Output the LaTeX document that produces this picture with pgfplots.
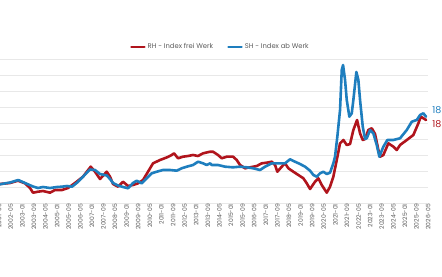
\documentclass[border=0pt]{standalone}
\usepackage{fontspec}
\setmainfont{Poppins}
\usepackage{pgfplots}
\pgfplotsset{compat=1.18}
\usepackage{pgfplotstable}

\definecolor{rhred}{HTML}{B0141C}
\definecolor{shblue}{HTML}{1E7EBE}
\definecolor{gridgray}{HTML}{E8E8E8}
\definecolor{labgray}{HTML}{5A5A5A}

% x: months since 2000-01, y: index value
\pgfplotstableread{
m v
21.96 103.75
28.86 105.0
34.38 107.9
39.21 104.6
42.66 98.75
44.73 92.9
48.19 94.1
51.63 95.0
56.47 92.9
59.92 96.25
64.75 96.25
68.89 98.75
73.72 105.0
79.24 112.9
84.56 125.4
87.52 119.1
90.97 110.0
95.60 119.1
97.87 112.9
99.95 103.75
103.40 100.4
106.85 106.6
110.30 101.25
113.75 102.5
117.20 104.6
120.65 108.75
124.10 119.1
127.55 129.6
132.38 133.75
137.21 137.1
140.46 140.0
142.04 142.1
144.80 135.9
148.25 137.9
151.70 138.75
155.15 140.0
158.61 138.75
162.06 142.1
166.89 144.1
168.96 144.1
172.41 140.0
174.96 135.9
178.41 137.9
182.76 137.9
185.31 133.75
187.59 127.5
191.04 123.4
194.49 124.6
199.12 126.25
202.57 129.6
206.02 130.4
209.47 131.6
211.75 127.5
213.33 119.1
216.37 125.4
218.65 129.6
220.93 123.4
224.38 119.1
227.83 115.0
231.28 110.9
233.63 104.6
235.90 97.5
239.35 106.6
241.63 110.9
243.98 102.5
247.43 92.9
249.70 100.4
251.98 112.9
254.33 133.75
256.60 154.6
258.88 158.75
261.23 152.5
263.51 153.75
265.79 171.25
268.34 183.75
270.41 167.1
272.27 158.75
273.86 160.0
276.14 171.25
278.49 173.4
280.76 166.25
283.04 146.25
284.21 137.9
286.49 140.0
289.94 154.6
293.39 150.4
295.74 146.25
298.01 152.5
302.64 158.75
307.19 165.0
310.64 179.6
312.30 187.9
314.09 185.9
315.96 183.75
}\rhdata

\pgfplotstableread{
m v
21.96 103.4
28.86 105.6
34.59 108.75
39.21 105.0
44.73 100.6
48.19 98.75
51.63 100.0
56.47 98.75
61.30 100.0
64.75 100.4
68.20 101.25
71.65 100.4
75.10 105.4
79.24 112.9
84.07 121.9
87.52 121.25
90.97 116.25
95.60 114.4
97.87 110.0
99.95 105.0
103.40 101.9
106.85 100.0
110.30 98.4
113.75 105.0
116.30 107.9
119.75 104.6
123.20 110.9
126.65 117.1
130.10 119.1
134.45 121.25
139.28 121.25
143.90 120.4
147.35 123.4
150.81 125.4
155.15 127.5
158.61 131.6
162.06 129.6
164.61 127.5
166.89 129.6
168.06 127.5
172.41 127.5
177.24 125.4
182.76 124.6
187.59 125.4
192.21 124.6
196.56 123.4
201.39 121.25
204.85 125.4
209.47 129.6
214.03 129.6
218.65 129.6
222.10 134.6
225.55 131.6
229.00 128.75
232.45 125.4
235.90 120.4
238.18 115.0
240.53 112.9
242.80 117.1
245.08 119.1
247.43 116.25
249.70 117.9
251.98 129.6
253.14 137.9
254.73 162.9
256.60 196.25
257.78 246.25
258.68 252.5
260.06 233.75
261.23 208.75
263.03 187.9
264.68 192.1
265.79 208.75
267.86 243.75
269.24 233.75
270.41 208.75
272.27 175.4
273.86 160.0
275.03 160.9
277.31 171.25
279.59 167.1
281.93 152.5
283.73 137.9
286.49 150.4
289.25 158.75
293.39 158.75
298.01 160.9
302.64 171.25
306.09 181.6
309.54 183.75
311.82 190.0
314.09 192.1
315.96 187.9
}\shdata

\begin{document}
\begin{tikzpicture}
\path[use as bounding box] (0,0) rectangle (442pt,276pt);
\clip (0,0) rectangle (442pt,276pt);
\begin{axis}[
  at={(-7.19pt,73pt)}, anchor=south west,
  scale only axis, width=435.2pt, height=144pt,
  xmin=17, xmax=317.3, ymin=80, ymax=260,
  clip=false,
  axis line style={draw=none},
  tick style={draw=none},
  ytick={80,100,...,260},
  yticklabels={},
  ymajorgrids, major grid style={gridgray, line width=0.8pt},
  xtick={20,28,...,316},
  xticklabels={2001-09,2002-05,2003-01,2003-09,2004-05,2005-01,2005-09,2006-05,2007-01,2007-09,2008-05,2009-01,2009-09,2010-05,2011-01,2011-09,2012-05,2013-01,2013-09,2014-05,2015-01,2015-09,2016-05,2017-01,2017-09,2018-05,2019-01,2019-09,2020-05,2021-01,2021-09,2022-05,2023-01,2023-09,2024-05,2025-01,2025-09,2026-05},
  xticklabel style={rotate=90, anchor=east, font=\fontsize{6}{6.5}\selectfont, text=labgray, inner sep=1pt},
  x tick label style={yshift=-2pt},
  legend columns=2,
  legend style={draw=none, fill=none, at={(0.523,1.083)}, anchor=center,
    font=\fontsize{6.8}{8}\selectfont, text=labgray,
    /tikz/every even column/.append style={column sep=12pt},
    inner sep=0pt},
  legend image code/.code={\draw[#1, line width=2.6pt] (0pt,0pt) -- (13pt,0pt);},
  every axis plot/.append style={line width=2.6pt, line join=round, line cap=round},
]
\addplot[rhred] table[x=m, y=v] {\rhdata};
\addlegendentry{RH - Index frei Werk}
\addplot[shblue] table[x=m, y=v] {\shdata};
\addlegendentry{SH - Index ab Werk}
\node[anchor=west, text=shblue, font=\fontsize{9.5}{10}\selectfont, inner sep=0pt] at (axis cs:320.1,196.25) {18};
\node[anchor=west, text=rhred, font=\fontsize{9.5}{10}\selectfont, inner sep=0pt] at (axis cs:320.1,178.75) {18};
\end{axis}
\end{tikzpicture}
\end{document}
